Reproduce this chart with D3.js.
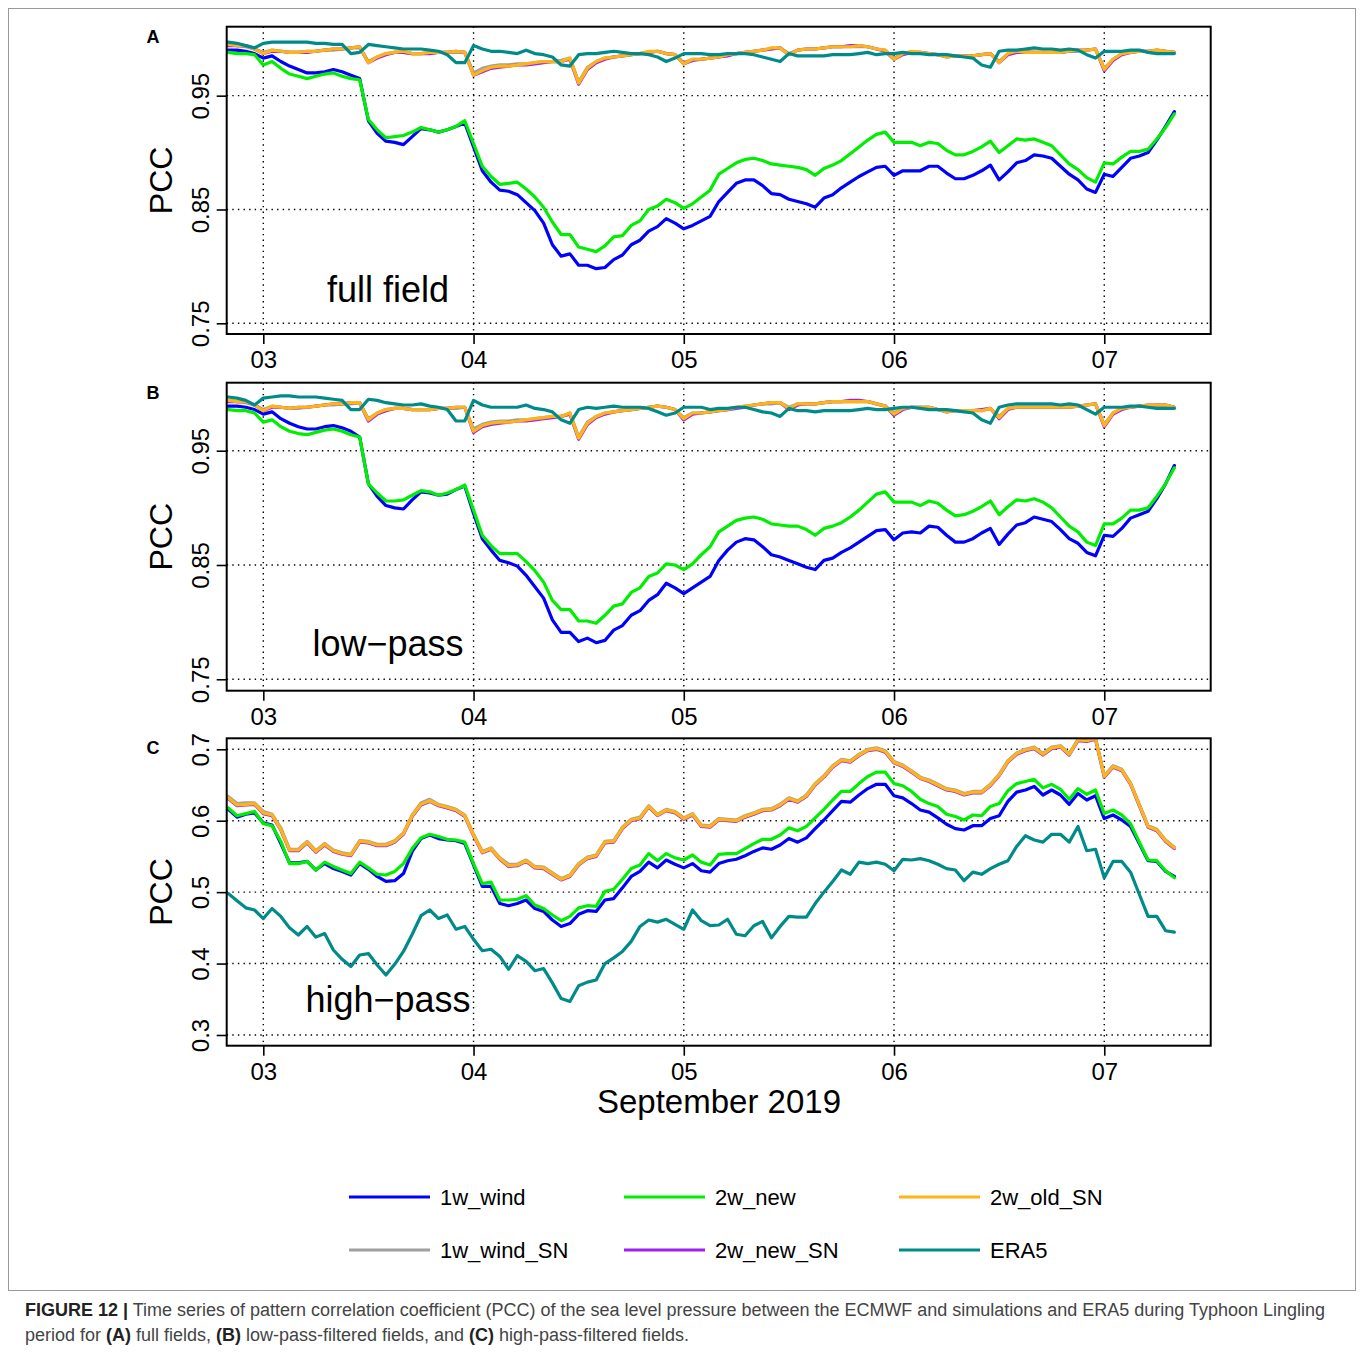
<!DOCTYPE html>
<html><head><meta charset="utf-8">
<script src="https://cdn.jsdelivr.net/npm/d3@7"></script>
<style>
body{margin:0;background:#fff;}
svg{display:block;font-family:"Liberation Sans",Arial,Helvetica,sans-serif;}
</style>
</head><body>
<svg id="chart" width="1360" height="1353"></svg>
<script>
// hourly time steps, in hours from 2019-09-03 00:00 (02 Sep 20:00 .. 07 Sep 08:00)
const hours = d3.range(-4, 105);
const xTickHours = [0, 24, 48, 72, 96];
const xTickLabels = ["03", "04", "05", "06", "07"];
const yTicksAB = [0.75, 0.85, 0.95];
const yTicksC = [0.3, 0.4, 0.5, 0.6, 0.7];
const seriesNames = ["1w_wind", "1w_wind_SN", "2w_new", "2w_new_SN", "2w_old_SN", "ERA5"];
const seriesColors = ["#0000FF", "#A0A0A0", "#00EE00", "#A020F0", "#FFB415", "#008B8B"];

// ---- Panel A: full field ----
const A_1w_wind = [.990,.990,.989,.987,
.983,.985,.980,.976,.973,.970,.970,.971,.973,.971,.968,.965,
.928,.917,.910,.909,.907,.914,.921,.920,.918,.920,.923,.926,
.905,.884,.874,.867,.866,.863,.856,.849,.838,.819,.809,
.811,.801,.801,.798,.799,.806,.810,.819,.823,.831,.835,.842,.838,
.833,.836,.840,.844,.857,.865,.873,.876,.876,.871,.864,.863,
.859,.857,.855,.852,.860,.863,.869,.874,.879,.883,.887,
.888,.880,.884,.884,.884,.888,.888,.882,.877,.877,.880,.884,.889,
.876,.883,.891,.893,.898,.897,.895,.888,.881,.876,.868,.865,
.881,.879,.887,.895,.897,.900,.911,.923,.936];
const A_1w_wind_SN = [.995,.994,.993,.991,
.988,.990,.989,.988,.988,.989,.989,.990,.990,.991,.992,.992,
.980,.984,.987,.988,.988,.987,.987,.988,.988,.988,.988,.988,
.970,.974,.976,.977,.977,.978,.978,.979,.980,.980,.981,
.983,.962,.975,.980,.983,.984,.985,.986,.987,.988,.989,.987,.986,
.979,.982,.982,.983,.984,.986,.987,.988,.989,.990,.991,.992,
.987,.990,.991,.991,.992,.993,.993,.993,.993,.993,.991,
.990,.983,.987,.988,.988,.987,.986,.985,.985,.985,.985,.986,.987,
.980,.987,.989,.989,.988,.988,.988,.988,.989,.989,.990,.991,
.974,.982,.987,.988,.989,.989,.989,.989,.988];
const A_2w_new = [.988,.987,.987,.986,
.977,.980,.974,.969,.967,.965,.967,.969,.970,.967,.965,.964,
.929,.920,.913,.914,.915,.918,.922,.920,.918,.920,.923,.928,
.908,.888,.879,.872,.873,.874,.868,.861,.852,.839,.828,
.828,.817,.815,.813,.818,.826,.827,.836,.840,.850,.853,.859,.856,
.851,.855,.861,.867,.881,.886,.891,.894,.895,.893,.890,.889,
.888,.887,.885,.880,.886,.889,.893,.899,.905,.911,.916,
.918,.909,.909,.909,.906,.909,.908,.902,.898,.898,.901,.905,.910,
.900,.906,.912,.911,.912,.909,.906,.898,.890,.885,.878,.874,
.891,.890,.896,.901,.901,.903,.912,.922,.934];
const A_2w_new_SN = [.994,.994,.994,.991,
.987,.989,.989,.988,.988,.988,.989,.990,.991,.991,.992,.993,
.979,.983,.986,.988,.988,.987,.987,.987,.988,.988,.989,.988,
.968,.971,.974,.975,.976,.977,.977,.978,.979,.980,.980,
.982,.960,.973,.979,.982,.984,.985,.986,.987,.988,.989,.987,.986,
.978,.981,.982,.983,.984,.985,.987,.988,.989,.990,.991,.992,
.986,.990,.991,.991,.992,.993,.993,.994,.994,.993,.991,
.989,.982,.986,.988,.988,.987,.986,.984,.985,.985,.985,.986,.987,
.979,.986,.988,.988,.988,.988,.988,.988,.989,.990,.990,.991,
.972,.981,.986,.988,.989,.989,.990,.989,.988];
const A_2w_old_SN = [.995,.994,.994,.991,
.987,.990,.989,.988,.988,.989,.989,.990,.991,.991,.992,.993,
.979,.984,.987,.988,.989,.987,.987,.988,.988,.988,.989,.988,
.968,.972,.975,.976,.976,.977,.978,.979,.980,.980,.980,
.983,.961,.974,.980,.983,.984,.985,.986,.987,.989,.989,.987,.986,
.978,.982,.982,.983,.984,.986,.987,.988,.989,.990,.992,.992,
.986,.990,.991,.991,.992,.993,.993,.993,.994,.993,.991,
.990,.982,.987,.989,.988,.987,.986,.984,.985,.985,.985,.986,.987,
.979,.987,.989,.988,.988,.988,.988,.988,.989,.990,.990,.991,
.973,.982,.987,.988,.989,.989,.990,.989,.988];
const A_ERA5 = [.997,.996,.994,.992,
.996,.997,.997,.997,.997,.997,.996,.996,.995,.995,.987,.988,
.995,.994,.993,.992,.991,.991,.991,.990,.989,.986,.979,.979,
.994,.991,.989,.989,.988,.987,.990,.987,.986,.984,.977,
.976,.986,.987,.987,.988,.989,.988,.987,.987,.986,.984,.980,.983,
.987,.987,.987,.986,.986,.987,.987,.987,.986,.984,.982,.980,
.987,.985,.985,.985,.985,.986,.986,.986,.987,.988,.986,
.987,.987,.988,.987,.987,.986,.986,.986,.985,.984,.983,.977,.975,
.989,.990,.990,.991,.992,.991,.991,.990,.991,.990,.986,.983,
.989,.989,.989,.990,.990,.988,.987,.987,.987];

// ---- Panel B: low-pass ----
const B_1w_wind = [.989,.989,.988,.986,
.982,.984,.978,.974,.971,.969,.969,.971,.972,.970,.967,.962,
.921,.910,.902,.900,.899,.907,.914,.913,.911,.912,.916,.919,
.895,.873,.863,.854,.852,.849,.841,.831,.821,.802,.791,
.791,.783,.786,.782,.784,.793,.797,.806,.810,.819,.824,.834,.830,
.825,.830,.835,.840,.854,.863,.870,.873,.872,.866,.859,.857,
.854,.851,.848,.846,.854,.856,.861,.865,.870,.875,.880,
.881,.872,.878,.879,.878,.884,.883,.876,.870,.870,.873,.878,.882,
.868,.877,.885,.887,.892,.890,.888,.881,.873,.869,.861,.858,
.876,.875,.882,.891,.894,.897,.908,.921,.937];
const B_1w_wind_SN = [.994,.993,.992,.990,
.986,.989,.988,.987,.987,.988,.989,.990,.990,.991,.991,.992,
.978,.983,.986,.987,.987,.986,.986,.986,.987,.987,.987,.988,
.969,.973,.975,.976,.976,.977,.977,.978,.979,.980,.980,
.983,.962,.975,.980,.983,.984,.985,.986,.987,.988,.989,.988,.986,
.979,.983,.983,.984,.985,.986,.988,.989,.990,.991,.991,.992,
.988,.991,.991,.991,.992,.993,.993,.993,.993,.993,.991,
.989,.983,.987,.988,.988,.988,.986,.985,.985,.985,.985,.985,.987,
.980,.987,.988,.988,.988,.988,.988,.988,.988,.989,.990,.991,
.973,.983,.987,.988,.989,.989,.990,.990,.988];
const B_2w_new = [.986,.985,.985,.983,
.975,.977,.971,.967,.965,.964,.966,.968,.969,.967,.964,.962,
.921,.913,.906,.906,.907,.911,.915,.914,.911,.913,.916,.920,
.898,.876,.867,.860,.860,.860,.853,.845,.835,.819,.811,
.811,.801,.801,.799,.806,.814,.816,.826,.830,.840,.843,.851,.850,
.846,.851,.859,.866,.879,.884,.889,.891,.892,.890,.886,.885,
.884,.884,.881,.876,.882,.884,.887,.892,.898,.905,.912,
.914,.905,.905,.905,.902,.906,.904,.898,.893,.894,.897,.901,.906,
.894,.901,.907,.906,.908,.905,.900,.892,.884,.879,.870,.867,
.886,.886,.891,.898,.898,.900,.910,.921,.935];
const B_2w_new_SN = [.993,.993,.993,.990,
.985,.988,.988,.987,.988,.988,.989,.990,.991,.991,.992,.992,
.976,.982,.985,.987,.987,.986,.986,.986,.987,.987,.988,.988,
.966,.971,.973,.974,.975,.976,.976,.977,.978,.979,.980,
.982,.960,.973,.979,.982,.984,.985,.986,.987,.988,.989,.988,.986,
.977,.982,.983,.984,.985,.986,.987,.988,.990,.991,.992,.992,
.986,.990,.991,.991,.992,.993,.993,.994,.994,.993,.991,
.989,.981,.986,.988,.988,.988,.986,.984,.985,.985,.985,.986,.987,
.978,.986,.988,.988,.988,.988,.988,.988,.988,.989,.990,.991,
.971,.982,.986,.988,.989,.990,.990,.990,.988];
const B_2w_old_SN = [.994,.993,.993,.990,
.985,.989,.988,.987,.988,.988,.989,.990,.991,.991,.992,.992,
.977,.983,.986,.987,.987,.986,.986,.986,.987,.987,.988,.988,
.967,.972,.974,.975,.975,.976,.977,.978,.979,.980,.980,
.983,.961,.974,.980,.983,.984,.985,.986,.987,.988,.989,.988,.986,
.978,.983,.983,.984,.985,.986,.988,.989,.990,.991,.992,.992,
.987,.991,.991,.991,.992,.993,.993,.993,.993,.993,.991,
.989,.982,.987,.988,.988,.988,.986,.984,.985,.985,.985,.985,.987,
.979,.987,.988,.988,.988,.988,.988,.988,.988,.989,.990,.991,
.972,.983,.987,.988,.989,.990,.990,.990,.988];
const B_ERA5 = [.997,.996,.994,.990,
.996,.997,.998,.998,.997,.997,.997,.996,.995,.994,.986,.986,
.995,.994,.992,.991,.990,.990,.991,.989,.988,.986,.976,.976,
.994,.990,.988,.988,.988,.988,.990,.987,.986,.984,.977,
.974,.986,.988,.987,.988,.989,.988,.988,.988,.987,.984,.981,.983,
.988,.988,.988,.986,.987,.987,.988,.988,.986,.984,.983,.980,
.987,.985,.985,.984,.985,.985,.985,.985,.986,.987,.986,
.986,.987,.988,.988,.987,.986,.986,.986,.985,.984,.983,.977,.974,
.988,.990,.991,.991,.991,.991,.991,.990,.991,.990,.986,.982,
.988,.988,.988,.989,.989,.988,.987,.987,.987];

// ---- Panel C: high-pass ----
const C_1w_wind = [.616,.605,.609,.611,
.597,.594,.568,.541,.541,.543,.531,.540,.533,.529,.524,.540,
.532,.522,.515,.516,.526,.557,.575,.580,.575,.573,.572,.568,
.538,.508,.508,.484,.481,.484,.489,.477,.473,.461,.452,
.456,.469,.474,.473,.489,.491,.506,.522,.529,.542,.534,.545,.539,
.534,.540,.530,.528,.540,.544,.546,.551,.557,.562,.560,.566,
.575,.570,.576,.589,.601,.614,.627,.626,.636,.645,.651,
.651,.635,.632,.624,.615,.612,.604,.595,.589,.587,.593,.593,.603,
.607,.627,.640,.643,.648,.636,.643,.636,.623,.638,.629,.635,
.603,.608,.601,.592,.568,.544,.543,.529,.522];
const C_1w_wind_SN = [.634,.624,.625,.625,
.613,.609,.590,.560,.560,.571,.558,.568,.559,.555,.553,.572,
.571,.567,.567,.572,.583,.608,.625,.630,.623,.620,.616,.608,
.581,.557,.562,.548,.539,.539,.545,.536,.535,.527,.519,
.524,.540,.549,.552,.571,.572,.591,.602,.605,.621,.609,.616,.613,
.604,.610,.594,.593,.603,.602,.601,.607,.611,.616,.617,.623,
.632,.628,.636,.652,.663,.677,.686,.684,.693,.700,.702,
.698,.683,.678,.670,.661,.657,.651,.645,.643,.638,.641,.641,.651,
.665,.684,.695,.700,.703,.694,.703,.705,.694,.714,.713,.716,
.663,.677,.672,.653,.623,.593,.588,.573,.563];
const C_2w_new = [.618,.607,.610,.613,
.596,.593,.571,.540,.540,.543,.531,.542,.536,.531,.526,.542,
.534,.525,.524,.529,.540,.561,.576,.581,.578,.574,.573,.570,
.540,.512,.514,.489,.489,.490,.495,.482,.477,.468,.460,
.466,.478,.481,.480,.501,.504,.518,.533,.538,.554,.544,.554,.548,
.545,.552,.542,.538,.553,.554,.554,.561,.568,.574,.574,.580,
.590,.586,.592,.604,.616,.629,.641,.641,.652,.662,.668,
.668,.652,.649,.641,.630,.624,.620,.609,.606,.601,.608,.607,.620,
.624,.642,.652,.655,.658,.646,.651,.644,.630,.645,.637,.643,
.610,.615,.608,.596,.570,.545,.544,.530,.520];
const C_2w_new_SN = [.631,.621,.622,.623,
.610,.607,.587,.558,.558,.569,.556,.566,.557,.553,.551,.570,
.569,.565,.565,.570,.581,.606,.622,.627,.621,.618,.614,.606,
.579,.555,.560,.546,.536,.537,.543,.534,.533,.525,.517,
.522,.538,.547,.550,.569,.570,.589,.600,.603,.619,.607,.614,.611,
.602,.608,.592,.591,.601,.600,.599,.605,.609,.614,.615,.621,
.630,.626,.634,.650,.661,.675,.684,.682,.691,.698,.700,
.696,.681,.676,.668,.659,.655,.649,.643,.641,.636,.639,.639,.649,
.663,.682,.693,.698,.701,.692,.701,.703,.692,.712,.711,.714,
.661,.675,.670,.651,.621,.591,.586,.571,.561];
const C_2w_old_SN = [.632,.622,.623,.624,
.611,.608,.588,.559,.559,.570,.557,.567,.558,.554,.552,.571,
.570,.566,.566,.571,.582,.607,.623,.628,.622,.619,.615,.607,
.580,.556,.561,.547,.537,.538,.544,.535,.534,.526,.518,
.523,.539,.548,.551,.570,.571,.590,.601,.604,.620,.608,.615,.612,
.603,.609,.593,.592,.602,.601,.600,.606,.610,.615,.616,.622,
.631,.627,.635,.651,.662,.676,.685,.683,.692,.699,.701,
.697,.682,.677,.669,.660,.656,.650,.644,.642,.637,.640,.640,.650,
.664,.683,.694,.699,.702,.693,.702,.704,.693,.713,.712,.715,
.662,.676,.671,.652,.622,.592,.587,.572,.562];
const C_ERA5 = [.498,.488,.478,.475,
.463,.477,.466,.450,.440,.452,.437,.442,.419,.406,.396,.412,
.414,.398,.384,.399,.417,.441,.467,.475,.463,.468,.448,.452,
.434,.418,.420,.410,.392,.411,.403,.390,.393,.373,.351,
.347,.369,.374,.377,.400,.408,.417,.431,.452,.461,.458,.462,.455,
.448,.475,.460,.453,.454,.462,.441,.439,.453,.459,.436,.452,
.466,.465,.465,.484,.500,.515,.531,.525,.542,.540,.542,
.539,.530,.546,.545,.547,.544,.539,.533,.531,.516,.528,.525,.533,
.539,.544,.564,.579,.573,.570,.581,.581,.570,.592,.558,.560,
.520,.543,.543,.528,.497,.466,.466,.446,.444];

const panels = [
  {letter:"A", label:"full field", top:26.7, bottom:334, domain:[0.7406, 1.0106], ticks:yTicksAB, fmt:".2f",
   series:[A_1w_wind, A_1w_wind_SN, A_2w_new, A_2w_new_SN, A_2w_old_SN, A_ERA5], labelY:302},
  {letter:"B", label:"low\u2212pass", top:382.7, bottom:690.7, domain:[0.7400, 1.0095], ticks:yTicksAB, fmt:".2f",
   series:[B_1w_wind, B_1w_wind_SN, B_2w_new, B_2w_new_SN, B_2w_old_SN, B_ERA5], labelY:656},
  {letter:"C", label:"high\u2212pass", top:738.3, bottom:1045.7, domain:[0.2850, 0.7154], ticks:yTicksC, fmt:".1f",
   series:[C_1w_wind, C_1w_wind_SN, C_2w_new, C_2w_new_SN, C_2w_old_SN, C_ERA5], labelY:1012}
];

const L = 226.7, R = 1210.7;
const x = d3.scaleLinear().domain([-4.178, 108.15]).range([L, R]);
const svg = d3.select("#chart");

// outer frame
svg.append("rect").attr("x", 8.5).attr("y", 8.5).attr("width", 1347).attr("height", 1282)
  .attr("fill", "none").attr("stroke", "#9a9a9a").attr("stroke-width", 1);

panels.forEach((p, pi) => {
  const y = d3.scaleLinear().domain(p.domain).range([p.bottom, p.top]);
  const g = svg.append("g");
  const clipId = "clip" + pi;
  svg.append("clipPath").attr("id", clipId).append("rect")
    .attr("x", L).attr("y", p.top).attr("width", R - L).attr("height", p.bottom - p.top);

  // dotted grid
  const grid = g.append("g").attr("stroke", "#000").attr("stroke-width", 1.4)
    .attr("stroke-dasharray", "1.4,4.2");
  p.ticks.forEach(t => grid.append("line").attr("x1", L).attr("x2", R)
    .attr("y1", y(t)).attr("y2", y(t)));
  xTickHours.forEach(h => grid.append("line").attr("x1", x(h)).attr("x2", x(h))
    .attr("y1", p.top).attr("y2", p.bottom));

  // series
  const line = d3.line().x((d, i) => x(hours[i])).y(d => y(d));
  const lg = g.append("g").attr("clip-path", `url(#${clipId})`);
  p.series.forEach((s, si) => {
    lg.append("path").datum(s).attr("d", line).attr("fill", "none")
      .attr("stroke", seriesColors[si]).attr("stroke-width", 3.2)
      .attr("stroke-linejoin", "round").attr("stroke-linecap", "round");
  });

  // frame
  g.append("rect").attr("x", L).attr("y", p.top).attr("width", R - L).attr("height", p.bottom - p.top)
    .attr("fill", "none").attr("stroke", "#000").attr("stroke-width", 2);

  // y axis ticks and labels
  const yAxis = d3.axisLeft(y).tickValues(p.ticks).tickSize(10).tickFormat(d3.format(p.fmt));
  const ya = g.append("g").attr("transform", `translate(${L},0)`).call(yAxis);
  ya.select(".domain").remove();
  ya.selectAll(".tick line").attr("stroke", "#000").attr("stroke-width", 1.6);
  ya.selectAll(".tick text").attr("x", null).attr("dy", null)
    .attr("transform", "translate(-18,0) rotate(-90)")
    .attr("text-anchor", "middle").attr("font-size", 24).attr("fill", "#000")
    .attr("font-family", "Liberation Sans, Arial, sans-serif");

  // x axis ticks and labels
  const xAxis = d3.axisBottom(x).tickValues(xTickHours).tickSize(10)
    .tickFormat((d, i) => xTickLabels[i]);
  const xa = g.append("g").attr("transform", `translate(0,${p.bottom})`).call(xAxis);
  xa.select(".domain").remove();
  xa.selectAll(".tick line").attr("stroke", "#000").attr("stroke-width", 1.6);
  xa.selectAll(".tick text").attr("y", 34).attr("dy", null).attr("font-size", 24).attr("fill", "#000")
    .attr("font-family", "Liberation Sans, Arial, sans-serif");

  // y label
  g.append("text").attr("transform", `translate(172,${(p.top + p.bottom) / 2}) rotate(-90)`)
    .attr("text-anchor", "middle").attr("font-size", 32).text("PCC");

  // panel letter
  g.append("text").attr("x", 153).attr("y", p.top + 16).attr("text-anchor", "middle")
    .attr("font-size", 18).attr("font-weight", "bold").text(p.letter);

  // panel label
  g.append("text").attr("x", 388).attr("y", p.labelY).attr("text-anchor", "middle")
    .attr("font-size", 36).text(p.label);
});

// x axis title
svg.append("text").attr("x", 719).attr("y", 1113).attr("text-anchor", "middle")
  .attr("font-size", 33).text("September 2019");

// legend (filled column-wise, 3 columns)
const legCols = [349, 624, 899], legRows = [1197, 1250];
seriesNames.forEach((n, i) => {
  const cx = legCols[Math.floor(i / 2)], cy = legRows[i % 2];
  svg.append("line").attr("x1", cx).attr("x2", cx + 81).attr("y1", cy).attr("y2", cy)
    .attr("stroke", seriesColors[i]).attr("stroke-width", 3.2);
  svg.append("text").attr("x", cx + 91).attr("y", cy + 8).attr("font-size", 22).text(n);
});

// caption
const cap1 = svg.append("text").attr("x", 25).attr("y", 1316).attr("font-size", 18)
  .attr("fill", "#444").attr("textLength", 1300).attr("lengthAdjust", "spacingAndGlyphs");
cap1.append("tspan").attr("font-weight", "bold").attr("fill", "#222").text("FIGURE 12 |");
cap1.append("tspan").text(" Time series of pattern correlation coefficient (PCC) of the sea level pressure between the ECMWF and simulations and ERA5 during Typhoon Lingling");
const cap2 = svg.append("text").attr("x", 25).attr("y", 1341).attr("font-size", 18)
  .attr("fill", "#444").attr("textLength", 664).attr("lengthAdjust", "spacingAndGlyphs");
[["period for ", false], ["(A)", true], [" full fields, ", false], ["(B)", true],
 [" low-pass-filtered fields, and ", false], ["(C)", true], [" high-pass-filtered fields.", false]]
 .forEach(([t, b]) => {
   const ts = cap2.append("tspan").text(t);
   if (b) ts.attr("font-weight", "bold").attr("fill", "#222");
 });
</script>
</body></html>
